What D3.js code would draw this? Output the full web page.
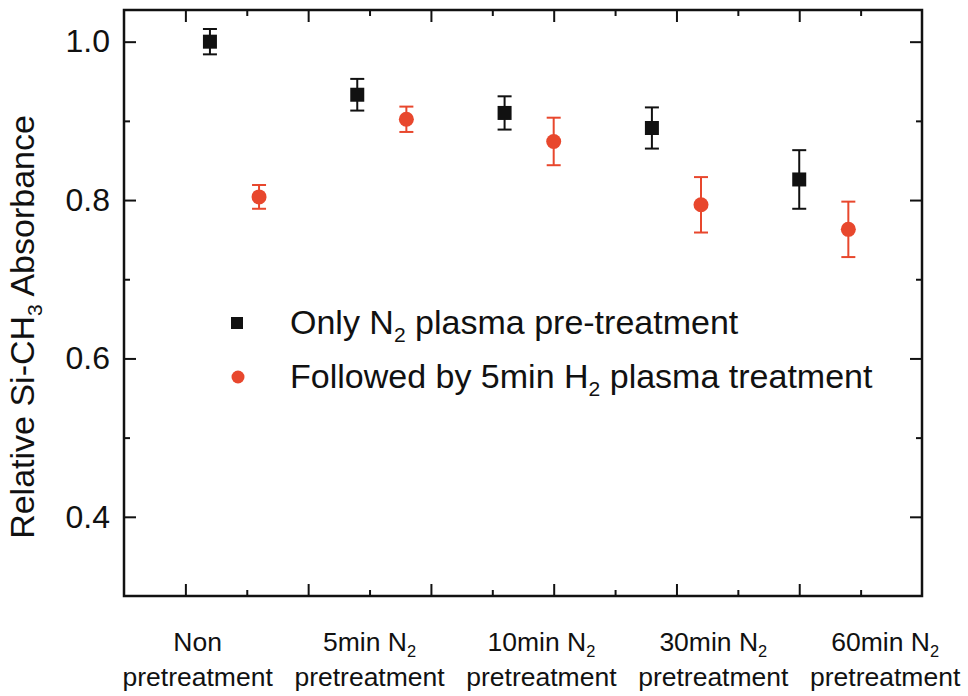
<!DOCTYPE html>
<html>
<head>
<meta charset="utf-8">
<script src="https://cdn.jsdelivr.net/npm/d3@7"></script>
<style>
  body { margin: 0; background: #fff; }
  text { font-family: "Liberation Sans", Arial, sans-serif; fill: #111; }
</style>
</head>
<body>
<svg id="chart" width="968" height="696"></svg>
<script>
// category labels (two lines, with N2 subscript)
var catMain = ["Non", "5min N", "10min N", "30min N", "60min N"];
var catSub = ["", "2", "2", "2", "2"];
var catLine2 = ["pretreatment", "pretreatment", "pretreatment", "pretreatment", "pretreatment"];
var catX = [0.1, 1.5, 2.9, 4.3, 5.7];

// series: only N2 plasma pre-treatment
var onlyX = [0.2, 1.4, 2.6, 3.8, 5.0];
var onlyY = [1.000, 0.933, 0.910, 0.891, 0.826];
var onlyErr = [0.016, 0.020, 0.021, 0.026, 0.037];

// series: followed by 5min H2 plasma treatment
var h2X = [0.6, 1.8, 3.0, 4.2, 5.4];
var h2Y = [0.804, 0.902, 0.874, 0.794, 0.763];
var h2Err = [0.015, 0.016, 0.030, 0.035, 0.035];

var yTicks = [0.4, 0.6, 0.8, 1.0];
var yMinor = [0.5, 0.7, 0.9];
var xTicks = [0, 1, 2, 3, 4, 5];
var xMinor = [0.5, 1.5, 2.5, 3.5, 4.5, 5.5];

var BLACK = "#111111";
var RED = "#e8472d";

var svg = d3.select("#chart");
var pLeft = 124, pRight = 922, pTop = 10, pBottom = 596;

var x = d3.scaleLinear().domain([-0.5, 6]).range([pLeft, pRight]);
var y = d3.scaleLinear().domain([0.3, 1.04]).range([pBottom, pTop]);

// ticks on all four sides, pointing inward
function drawAxis(axis, tx, ty) {
  var g = svg.append("g").attr("transform", "translate(" + tx + "," + ty + ")").call(axis);
  g.select(".domain").remove();
  g.selectAll(".tick line").attr("stroke", BLACK).attr("stroke-width", 2);
  return g;
}

var yAxis = drawAxis(d3.axisLeft(y).tickValues(yTicks).tickSize(-12).tickPadding(14)
  .tickFormat(d3.format(".1f")), pLeft, 0);
yAxis.selectAll("text").attr("font-size", 32).attr("fill", BLACK).attr("font-family", "Liberation Sans, Arial, sans-serif");
drawAxis(d3.axisLeft(y).tickValues(yMinor).tickSize(-6).tickFormat(""), pLeft, 0);
drawAxis(d3.axisRight(y).tickValues(yTicks).tickSize(-12).tickFormat(""), pRight, 0);
drawAxis(d3.axisRight(y).tickValues(yMinor).tickSize(-6).tickFormat(""), pRight, 0);
drawAxis(d3.axisBottom(x).tickValues(xTicks).tickSize(-12).tickFormat(""), 0, pBottom);
drawAxis(d3.axisBottom(x).tickValues(xMinor).tickSize(-6).tickFormat(""), 0, pBottom);
drawAxis(d3.axisTop(x).tickValues(xTicks).tickSize(-12).tickFormat(""), 0, pTop);
drawAxis(d3.axisTop(x).tickValues(xMinor).tickSize(-6).tickFormat(""), 0, pTop);

// frame
svg.append("rect")
  .attr("x", pLeft).attr("y", pTop)
  .attr("width", pRight - pLeft).attr("height", pBottom - pTop)
  .attr("fill", "none").attr("stroke", BLACK).attr("stroke-width", 2.5);

// error bars
function errorBars(xs, ys, es, color) {
  var g = svg.append("g").attr("stroke", color).attr("stroke-width", 2);
  xs.forEach(function(d, i) {
    var cx = x(d), y0 = y(ys[i] - es[i]), y1 = y(ys[i] + es[i]);
    g.append("line").attr("x1", cx).attr("x2", cx).attr("y1", y0).attr("y2", y1);
    g.append("line").attr("x1", cx - 7).attr("x2", cx + 7).attr("y1", y0).attr("y2", y0);
    g.append("line").attr("x1", cx - 7).attr("x2", cx + 7).attr("y1", y1).attr("y2", y1);
  });
}
errorBars(onlyX, onlyY, onlyErr, BLACK);
errorBars(h2X, h2Y, h2Err, RED);

// markers
svg.append("g").selectAll("rect")
  .data(onlyX)
  .enter().append("rect")
  .attr("x", function(d) { return x(d) - 7; })
  .attr("y", function(d, i) { return y(onlyY[i]) - 7; })
  .attr("width", 14).attr("height", 14)
  .attr("fill", BLACK);

svg.append("g").selectAll("circle")
  .data(h2X)
  .enter().append("circle")
  .attr("cx", function(d) { return x(d); })
  .attr("cy", function(d, i) { return y(h2Y[i]); })
  .attr("r", 7.5)
  .attr("fill", RED);

// text with a subscript piece
function subText(sel, before, sub, after, shift) {
  sel.append("tspan").text(before);
  if (sub) {
    sel.append("tspan").attr("dy", shift).attr("font-size", "0.62em").text(sub);
    sel.append("tspan").attr("dy", -shift).text(after);
  }
}

// category labels
catMain.forEach(function(d, i) {
  var t = svg.append("text")
    .attr("x", x(catX[i])).attr("y", 651)
    .attr("text-anchor", "middle").attr("font-size", 26.5);
  subText(t, d, catSub[i], "", 6);
  svg.append("text")
    .attr("x", x(catX[i])).attr("y", 686)
    .attr("text-anchor", "middle").attr("font-size", 26.5)
    .text(catLine2[i]);
});

// y title
var yt = svg.append("text")
  .attr("transform", "translate(34,327) rotate(-90)")
  .attr("text-anchor", "middle").attr("font-size", 34);
subText(yt, "Relative Si-CH", "3", " Absorbance", 8);

// legend
svg.append("rect").attr("x", 231).attr("y", 317).attr("width", 12).attr("height", 12).attr("fill", BLACK);
svg.append("circle").attr("cx", 238).attr("cy", 377).attr("r", 6.5).attr("fill", RED);
var l1 = svg.append("text").attr("x", 290).attr("y", 334).attr("font-size", 34);
subText(l1, "Only N", "2", " plasma pre-treatment", 8);
var l2 = svg.append("text").attr("x", 290).attr("y", 388).attr("font-size", 34);
subText(l2, "Followed by 5min H", "2", " plasma treatment", 8);
</script>
</body>
</html>
